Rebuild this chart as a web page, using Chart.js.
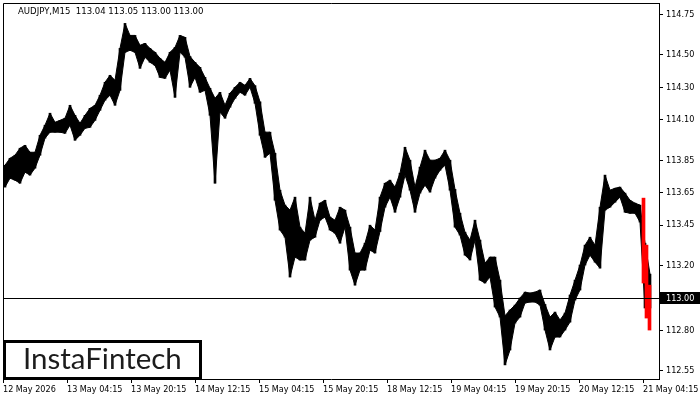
<!DOCTYPE html>
<html>
<head>
<meta charset="utf-8">
<script src="https://cdn.jsdelivr.net/npm/chart.js@4.4.1/dist/chart.umd.min.js"></script>
<style>
    html, body { margin: 0; padding: 0; background: #fff; }
    #wrap { width: 700px; height: 400px; }
</style>
</head>
<body>
<div id="wrap"><canvas id="chart" width="700" height="400"></canvas></div>
<script>
// AUDJPY M15, each column = 5 bars (high / low of the group)
const symbolTitle = 'AUDJPY,M15  113.04 113.05 113.00 113.00';
const barsPerColumn = 5;
const xTickStep = 64;
const xTickLabels = ['12 May 2026', '13 May 04:15', '13 May 20:15', '14 May 12:15', '15 May 04:15',
    '15 May 20:15', '18 May 12:15', '19 May 04:15', '19 May 20:15', '20 May 12:15', '21 May 04:15'];
const yTickValues = [114.75, 114.50, 114.30, 114.10, 113.85, 113.65, 113.45, 113.20, 113.00, 112.80, 112.55];
const currentPrice = 113.00;

const highs = [
    113.819, 113.862, 113.881, 113.924, 113.942, 113.899, 113.899, 114.004, 114.066, 114.140,
    114.084, 114.096, 114.109, 114.189, 114.127, 114.078, 114.127, 114.170, 114.189, 114.251,
    114.331, 114.374, 114.343, 114.540, 114.694, 114.620, 114.620, 114.559, 114.571, 114.540,
    114.516, 114.479, 114.454, 114.516, 114.546, 114.620, 114.608, 114.490, 114.454, 114.423,
    114.361, 114.294, 114.232, 114.269, 114.189, 114.263, 114.300, 114.331, 114.312, 114.355,
    114.310, 114.210, 114.023, 114.023, 113.893, 113.665, 113.573, 113.542, 113.622, 113.437,
    113.400, 113.622, 113.480, 113.585, 113.603, 113.499, 113.480, 113.560, 113.542, 113.437,
    113.277, 113.277, 113.338, 113.449, 113.419, 113.622, 113.708, 113.727, 113.684, 113.770,
    113.930, 113.850, 113.684, 113.807, 113.912, 113.850, 113.850, 113.862, 113.912, 113.850,
    113.670, 113.523, 113.406, 113.357, 113.480, 113.357, 113.215, 113.252, 113.252, 113.110,
    112.890, 112.926, 112.956, 113.000, 113.036, 113.030, 113.036, 113.049, 112.960, 112.882,
    112.913, 112.864, 112.907, 113.018, 113.110, 113.203, 113.326, 113.375, 113.326, 113.560,
    113.758, 113.665, 113.677, 113.684, 113.647, 113.603, 113.585, 113.573, 113.338, 113.147
];
const lows = [
    113.684, 113.739, 113.727, 113.708, 113.776, 113.758, 113.801, 113.881, 113.986, 114.023,
    114.023, 114.023, 114.016, 114.066, 113.973, 114.004, 114.047, 114.053, 114.096, 114.158,
    114.220, 114.251, 114.189, 114.281, 114.516, 114.528, 114.516, 114.417, 114.485, 114.454,
    114.435, 114.361, 114.355, 114.405, 114.238, 114.516, 114.485, 114.300, 114.361, 114.269,
    114.281, 114.127, 113.708, 114.146, 114.109, 114.177, 114.232, 114.269, 114.251, 114.300,
    114.201, 114.004, 113.868, 113.893, 113.603, 113.419, 113.375, 113.129, 113.252, 113.234,
    113.234, 113.357, 113.375, 113.480, 113.499, 113.419, 113.400, 113.338, 113.437, 113.172,
    113.079, 113.172, 113.172, 113.295, 113.277, 113.410, 113.560, 113.622, 113.529, 113.622,
    113.758, 113.665, 113.529, 113.647, 113.696, 113.653, 113.739, 113.788, 113.819, 113.665,
    113.437, 113.388, 113.264, 113.234, 113.357, 113.110, 113.092, 113.129, 112.944, 112.882,
    112.587, 112.679, 112.845, 112.882, 112.969, 112.975, 112.975, 112.956, 112.802, 112.679,
    112.759, 112.759, 112.802, 112.851, 112.987, 113.049, 113.203, 113.264, 113.221, 113.184,
    113.542, 113.560, 113.591, 113.622, 113.529, 113.523, 113.523, 113.468, 112.938, 112.938
];

// last sell-off drawn in red (bar index, high, low)
const lastMoveX = [640.5, 643.5, 646.5];
const lastMoveHighs = [113.616, 113.326, 113.079];
const lastMoveLows = [113.092, 112.876, 112.802];

const colX = i => i * barsPerColumn + 2;
const blackColumns = highs.map((h, i) => ({ x: colX(i), y: [lows[i], h] }));
const highLine = highs.map((h, i) => ({ x: colX(i), y: h }));
const lowLine = lows.map((l, i) => ({ x: colX(i), y: l }));
const redColumns = lastMoveX.map((x, i) => ({ x: x, y: [lastMoveLows[i], lastMoveHighs[i]] }));

const axisFont = { family: '"DejaVu Sans Condensed", "DejaVu Sans", sans-serif', size: 9 };

// frame, title, current price line, price box and logo
const terminalDecor = {
    id: 'terminalDecor',
    afterDatasetsDraw(chart) {
        const { ctx, chartArea, scales } = chart;
        const yPx = Math.round(scales.y.getPixelForValue(currentPrice)) + 0.5;
        ctx.save();
        ctx.strokeStyle = '#000';
        ctx.lineWidth = 1;
        ctx.beginPath();
        ctx.moveTo(chartArea.left, yPx);
        ctx.lineTo(chartArea.right, yPx);
        ctx.stroke();
        ctx.restore();
    },
    afterDraw(chart) {
        const { ctx, chartArea, scales } = chart;
        ctx.save();
        ctx.strokeStyle = '#000';
        ctx.lineWidth = 1;
        ctx.beginPath();
        ctx.moveTo(chartArea.left + 0.5, chartArea.bottom);
        ctx.lineTo(chartArea.left + 0.5, chartArea.top + 0.5);
        ctx.lineTo(chartArea.right, chartArea.top + 0.5);
        ctx.stroke();

        // title
        ctx.fillStyle = '#000';
        ctx.font = '9.5px "DejaVu Sans Condensed", "DejaVu Sans", sans-serif';
        ctx.textBaseline = 'alphabetic';
        ctx.textAlign = 'left';
        ctx.fillText(symbolTitle, 18, 14);

        // current price label
        const yPx = Math.round(scales.y.getPixelForValue(currentPrice));
        ctx.font = '9px "DejaVu Sans Condensed", "DejaVu Sans", sans-serif';
        ctx.fillStyle = '#000';
        ctx.fillRect(chartArea.right + 1, yPx - 6, 40, 12);
        ctx.fillStyle = '#fff';
        ctx.textBaseline = 'middle';
        ctx.fillText(currentPrice.toFixed(2), chartArea.right + 7, yPx + 0.5);

        // logo
        ctx.fillStyle = '#fff';
        ctx.fillRect(4, 341, 197, 37);
        ctx.lineWidth = 3;
        ctx.strokeStyle = '#000';
        ctx.strokeRect(4.5, 341.5, 196, 37);
        ctx.fillStyle = '#1c1c1c';
        ctx.textBaseline = 'alphabetic';
        ctx.font = '28px Lato, "Open Sans", sans-serif';
        const w = ctx.measureText('InstaFintech').width;
        const size = 28 * 159 / w;
        ctx.font = size.toFixed(1) + 'px Lato, "Open Sans", sans-serif';
        ctx.fillText('InstaFintech', 23, 369);
        ctx.restore();
    }
};

new Chart(document.getElementById('chart').getContext('2d'), {
    type: 'bar',
    data: {
        datasets: [
            {
                data: redColumns,
                backgroundColor: '#ff0000',
                borderWidth: 0,
                barThickness: 3,
                grouped: false
            },
            {
                type: 'line',
                data: highLine,
                borderColor: '#000',
                borderWidth: 1,
                pointRadius: 0,
                tension: 0,
                fill: false
            },
            {
                type: 'line',
                data: lowLine,
                borderColor: '#000',
                borderWidth: 1,
                backgroundColor: '#000',
                pointRadius: 0,
                tension: 0,
                fill: '-1'
            },
            {
                data: blackColumns,
                backgroundColor: '#000',
                borderWidth: 0,
                barThickness: 2,
                grouped: false
            }
        ]
    },
    options: {
        responsive: false,
        animation: false,
        layout: { padding: { left: 3, top: 3, right: 0, bottom: 0 } },
        plugins: {
            legend: { display: false },
            tooltip: { enabled: false },
            title: { display: false }
        },
        scales: {
            x: {
                type: 'linear',
                min: 0,
                max: 656,
                offset: false,
                grid: { drawOnChartArea: false, offset: false, tickLength: 4, color: '#000' },
                border: { color: '#000' },
                ticks: {
                    autoSkip: false,
                    maxRotation: 0,
                    align: 'start',
                    padding: 1,
                    color: '#000',
                    font: axisFont,
                    callback: v => xTickLabels[Math.round(v / xTickStep)]
                },
                afterBuildTicks: s => { s.ticks = xTickLabels.map((_, i) => ({ value: i * xTickStep })); },
                afterFit: s => { s.height = 21; s.paddingLeft = 0; s.paddingRight = 0; }
            },
            y: {
                position: 'right',
                min: 112.50,
                max: 114.82,
                beginAtZero: false,
                grid: { drawOnChartArea: false, tickLength: 4, color: '#000' },
                border: { color: '#000' },
                ticks: {
                    padding: 3,
                    color: '#000',
                    font: axisFont,
                    callback: v => Number(v).toFixed(2)
                },
                afterBuildTicks: s => { s.ticks = yTickValues.map(v => ({ value: v })); },
                afterFit: s => { s.width = 41; s.paddingTop = 0; s.paddingBottom = 0; }
            }
        }
    },
    plugins: [terminalDecor]
});
</script>
</body>
</html>
